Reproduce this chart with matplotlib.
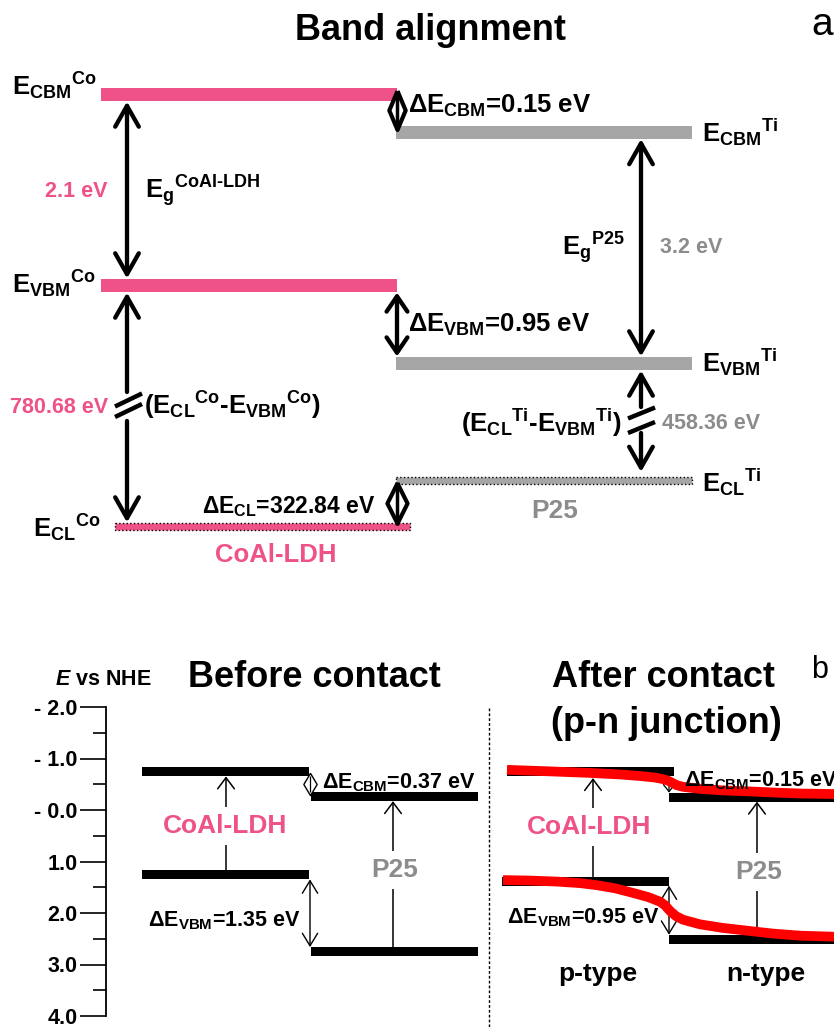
import numpy as np
import matplotlib
matplotlib.use('Agg')
from matplotlib import pyplot as plt

plt.rcParams['font.family'] = ['Liberation Sans', 'DejaVu Sans']
plt.rcParams['font.weight'] = 'bold'
plt.rcParams['mathtext.fontset'] = 'custom'
plt.rcParams['mathtext.rm'] = 'Liberation Sans:bold'
plt.rcParams['mathtext.bf'] = 'Liberation Sans:bold'
plt.rcParams['mathtext.sf'] = 'Liberation Sans:bold'
plt.rcParams['mathtext.it'] = 'Liberation Sans:bold:italic'
plt.rcParams['mathtext.default'] = 'rm'

pink = '#ef5288'
grey_bar = '#a6a6a6'
grey_txt = '#8c8c8c'

# panel a: schematic level heights (drawing units, larger = lower energy)
co_levels = [94.5, 285.5, 526.5]      # CBM, VBM, CL  (CoAl-LDH)
ti_levels = [132, 363.5, 480]         # CBM, VBM, CL  (P25)

# panel b: energies vs NHE (eV)
nhe_ticks = [-2, -1, 0, 1, 2, 3, 4]
nhe_labels = ['- 2.0', '- 1.0', '- 0.0', '1.0', '2.0', '3.0', '4.0']
before_co = [-0.74, 1.26]    # CBM, VBM
before_ti = [-0.26, 2.75]
after_co = [-0.74, 1.38]
after_ti = [-0.25, 2.51]
# bent bands after contact
bend_cbm_x = [507, 550, 590, 620, 640, 655, 663, 668, 672, 677, 683, 700, 723, 750, 773, 800, 834]
bend_cbm_e = [-0.78, -0.75, -0.72, -0.69, -0.66, -0.63, -0.60, -0.57, -0.53, -0.48, -0.45, -0.41, -0.38, -0.36, -0.34, -0.32, -0.31]
bend_vbm_x = [503, 530, 557, 580, 597, 615, 633, 648, 660, 665, 670, 676, 683, 700, 723, 750, 773, 800, 834]
bend_vbm_e = [1.36, 1.37, 1.39, 1.42, 1.46, 1.52, 1.61, 1.69, 1.78, 1.85, 1.96, 2.06, 2.13, 2.22, 2.29, 2.35, 2.40, 2.44, 2.46]

fig = plt.figure(figsize=(8.34, 10.27), dpi=100)

# ---- panel b axis (E vs NHE) ----
axb = fig.add_axes([106 / 834, 11 / 1027, 728 / 834, 309 / 1027])
axb.set_xlim(106, 834)
axb.set_ylim(4, -2)
axb.patch.set_visible(False)
for s in ['top', 'right', 'bottom']:
    axb.spines[s].set_visible(False)
axb.spines['left'].set_linewidth(1.3)
axb.set_xticks([])
axb.set_yticks(nhe_ticks, nhe_labels)
axb.set_yticks(np.arange(-1.5, 4, 1.0), minor=True)
axb.tick_params(axis='y', which='major', direction='out', length=18.5, width=1.2,
                pad=2, labelsize=15.5)
axb.tick_params(axis='y', which='minor', direction='out', length=9.4, width=1.2)

# ---- overlay in pixel units for panel a and all labels ----
ax = fig.add_axes([0, 0, 1, 1])
ax.set_zorder(3)
ax.set_xlim(0, 834)
ax.set_ylim(1027, 0)
ax.axis('off')
ax.patch.set_alpha(0)


def arrow(a, tail, tip, style, lw, hl, hw, fc='k'):
    a.annotate('', xy=tip, xytext=tail,
               arrowprops=dict(arrowstyle=f'{style},head_length={hl},head_width={hw}',
                               lw=lw, ec='k', fc=fc, shrinkA=0, shrinkB=0,
                               mutation_scale=1))


def diamond(a, x, y0, y1, ms, ratio, mew, lw):
    # short double-headed arrow drawn as an outlined diamond
    shape = [(0, 1), (ratio, 0), (0, -1), (-ratio, 0), (0, 1)]
    a.plot([x, x], [y0, y1], color='k', lw=lw, solid_capstyle='butt', zorder=5)
    a.plot([x], [(y0 + y1) / 2], marker=shape, ms=ms, mfc='white', mec='k',
           mew=mew, zorder=4)


# panel a levels
ax.barh(co_levels[:2], 296, left=101, height=13, color=pink)
ax.barh(co_levels[2], 295, left=115, height=7, color=pink, edgecolor='k',
        linestyle=':', linewidth=1)
ax.barh(ti_levels[:2], 296, left=396, height=13, color=grey_bar)
ax.barh(ti_levels[2], 296, left=396, height=7, color=grey_bar, edgecolor='k',
        linestyle=':', linewidth=1)

# panel a arrows
arrow(ax, (127, co_levels[0] + 7), (127, co_levels[1] - 7), '<->', 3.1, 15, 8.5)
arrow(ax, (127, 392), (127, co_levels[1] + 7), '->', 3.1, 15, 8.5)
arrow(ax, (127, 421), (127, co_levels[2] - 4), '->', 3.1, 15, 8.5)
ax.plot([115, 142], [406.5, 393.5], color='k', lw=3.2, solid_capstyle='butt')
ax.plot([115, 142], [417, 404], color='k', lw=3.2, solid_capstyle='butt')

arrow(ax, (641, ti_levels[0] + 7), (641, ti_levels[1] - 7), '<->', 3.1, 15, 8.5)
arrow(ax, (641, 407), (641, ti_levels[1] + 7), '->', 3.1, 15, 8.5)
arrow(ax, (641, 433), (641, ti_levels[2] - 8), '->', 3.1, 15, 8.5)
ax.plot([628, 655], [418.5, 407.5], color='k', lw=3.2, solid_capstyle='butt')
ax.plot([628, 655], [433, 422], color='k', lw=3.2, solid_capstyle='butt')

diamond(ax, 397, co_levels[0] - 4, ti_levels[0] - 3, 28, 0.42, 3, 2.5)
arrow(ax, (397, co_levels[1] + 7), (397, ti_levels[1] - 7), '<->', 3.1, 11, 7.5)
diamond(ax, 397, ti_levels[2] + 2, co_levels[2] - 2, 29, 0.5, 3, 2.5)

# panel a texts
fs_e = 18.5
ax.text(431, 40, 'Band alignment', fontsize=26, ha='center', va='baseline')
ax.text(811, 35, 'a', fontsize=28, fontweight='normal', va='baseline')
ax.text(12, 95, r'$E_{CBM}{}^{Co}$', fontsize=fs_e, va='baseline')
ax.text(12, 293, r'$E_{VBM}{}^{Co}$', fontsize=fs_e, va='baseline')
ax.text(33, 537, r'$E_{CL}{}^{Co}$', fontsize=fs_e, va='baseline')
ax.text(108, 197, '2.1 eV', fontsize=15.5, color=pink, ha='right', va='baseline')
ax.text(145, 198, r'$E_g{}^{\text{CoAl-LDH}}$', fontsize=fs_e, va='baseline')
ax.text(108, 413, '780.68 eV', fontsize=15.5, color=pink, ha='right', va='baseline')
ax.text(144, 415, r'($E_{CL}{}^{Co}$-$E_{VBM}{}^{Co}$)', fontsize=fs_e, va='baseline')
ax.text(375, 513, r'Δ$E_{CL}$=322.84 eV', fontsize=16.5, ha='right', va='baseline')
ax.text(276, 562, 'CoAl-LDH', fontsize=18.5, color=pink, ha='center', va='baseline')

ax.text(408, 113, r'Δ$E_{CBM}$=0.15 eV', fontsize=18.5, va='baseline')
ax.text(408, 332, r'Δ$E_{VBM}$=0.95 eV', fontsize=18.5, va='baseline')
ax.text(702, 142, r'$E_{CBM}{}^{Ti}$', fontsize=fs_e, va='baseline')
ax.text(702, 372, r'$E_{VBM}{}^{Ti}$', fontsize=fs_e, va='baseline')
ax.text(702, 492, r'$E_{CL}{}^{Ti}$', fontsize=fs_e, va='baseline')
ax.text(562, 255, r'$E_g{}^{P25}$', fontsize=fs_e, va='baseline')
ax.text(660, 253, '3.2 eV', fontsize=15.5, color=grey_txt, va='baseline')
ax.text(622, 432, r'($E_{CL}{}^{Ti}$-$E_{VBM}{}^{Ti}$)', fontsize=fs_e, ha='right', va='baseline')
ax.text(662, 429, '458.36 eV', fontsize=15.5, color=grey_txt, va='baseline')
ax.text(555, 518, 'P25', fontsize=19, color=grey_txt, ha='center', va='baseline')

# ---- panel b ----
bh = 0.175
axb.barh(before_co, 167, left=142, height=bh, color='k')
axb.barh(before_ti, 167, left=311, height=bh, color='k')
axb.barh(after_co[0], 167, left=507, height=bh, color='k')
axb.barh(after_co[1], 167, left=502, height=bh, color='k')
axb.barh(after_ti, 170, left=669, height=bh, color='k')

axb.plot(bend_cbm_x, bend_cbm_e, color='red', lw=7, solid_joinstyle='round',
         solid_capstyle='butt', zorder=6)
axb.plot(bend_vbm_x, bend_vbm_e, color='red', lw=7, solid_joinstyle='round',
         solid_capstyle='butt', zorder=6)

h = bh / 2
arrow(axb, (226, before_co[1] - h), (226, before_co[0] + h), '->', 1.1, 8, 6)
arrow(axb, (393, before_ti[1] - h), (393, before_ti[0] + h), '->', 1.1, 8, 6)
diamond(axb, 310, before_co[0] + h, before_ti[0] - h, 16, 0.6, 1, 0.9)
arrow(axb, (310, before_co[1] + h), (310, before_ti[1] - h), '<->', 1.0, 9, 5.5)

arrow(axb, (593, after_co[1] - h), (593, -0.62), '->', 1.1, 8, 6)
arrow(axb, (757, 2.42), (757, after_ti[0] + h), '->', 1.1, 8, 6)
arrow(axb, (669, after_co[0] + h), (669, after_ti[0] - h), '<->', 0.9, 5, 4)
arrow(axb, (669, after_co[1] + h), (669, after_ti[1] - h), '<->', 1.0, 9, 5.5)

ax.plot([489, 489], [708, 1027], color='k', lw=1, linestyle=(0, (2, 1.5)))

white = dict(fc='white', ec='none', pad=5)
ax.text(55, 685, r'$\mathit{E}$ vs NHE', fontsize=15.5, va='baseline')
ax.text(314, 687, 'Before contact', fontsize=26, ha='center', va='baseline')
ax.text(664, 687, 'After contact', fontsize=26, ha='center', va='baseline')
ax.text(666, 733, '(p-n junction)', fontsize=26, ha='center', va='baseline')
ax.text(811, 678, 'b', fontsize=22, fontweight='normal', va='baseline')

ax.text(322, 788, r'Δ$E_{CBM}$=0.37 eV', fontsize=15.5, va='baseline')
ax.text(148, 926, r'Δ$E_{VBM}$=1.35 eV', fontsize=15.5, va='baseline')
ax.text(225, 833, 'CoAl-LDH', fontsize=19, color=pink, ha='center', va='baseline', bbox=white)
ax.text(395, 877, 'P25', fontsize=19, color=grey_txt, ha='center', va='baseline', bbox=white)

ax.text(684, 786, r'Δ$E_{CBM}$=0.15 eV', fontsize=15.5, va='baseline')
ax.text(507, 923, r'Δ$E_{VBM}$=0.95 eV', fontsize=15.5, va='baseline')
ax.text(589, 834, 'CoAl-LDH', fontsize=19, color=pink, ha='center', va='baseline', bbox=white)
ax.text(759, 879, 'P25', fontsize=19, color=grey_txt, ha='center', va='baseline', bbox=white)
ax.text(598, 981, 'p-type', fontsize=19, ha='center', va='baseline')
ax.text(766, 981, 'n-type', fontsize=19, ha='center', va='baseline')

fig.savefig('out.png', dpi=100)
